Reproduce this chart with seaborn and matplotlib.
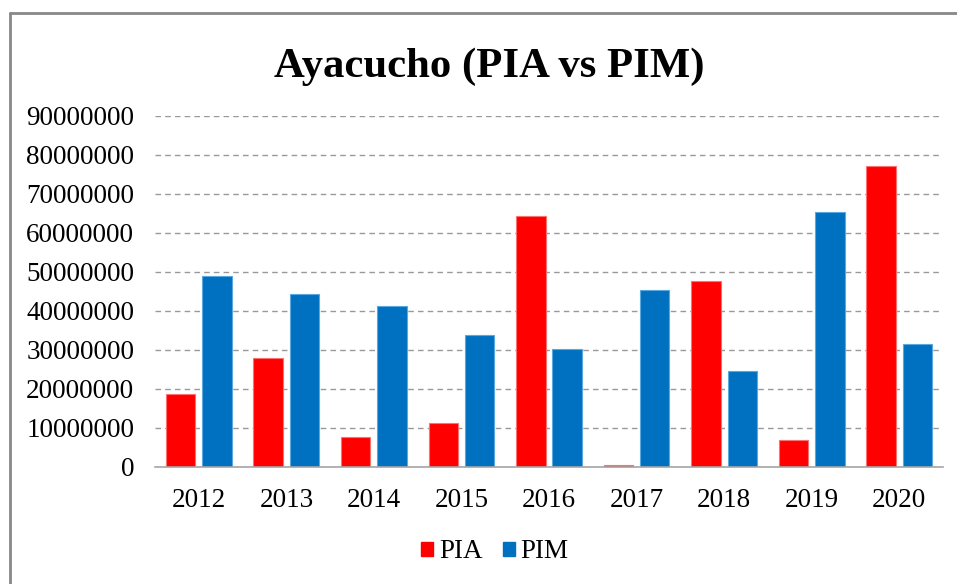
import matplotlib
matplotlib.use("Agg")
import matplotlib.pyplot as plt
from matplotlib.lines import Line2D
import seaborn as sns
import pandas as pd

years = ["2012", "2013", "2014", "2015", "2016", "2017", "2018", "2019", "2020"]
pia = [18560000, 27800000, 7700000, 11300000, 64300000, 400000, 47600000, 6800000, 77200000]
pim = [48900000, 44200000, 41300000, 33700000, 30100000, 45300000, 24500000, 65300000, 31400000]
series = ["PIA", "PIM"]
yticks = list(range(0, 90000001, 10000000))

df = pd.DataFrame({
    "year": years * 2,
    "value": pia + pim,
    "series": ["PIA"] * len(years) + ["PIM"] * len(years),
})

sns.set_style("white")
plt.rcParams["font.family"] = ["Liberation Serif", "DejaVu Serif"]
plt.rcParams["text.color"] = "black"
plt.rcParams["xtick.color"] = "black"
plt.rcParams["ytick.color"] = "black"

fig = plt.figure(figsize=(9.57, 5.84), dpi=100)
ax = fig.add_axes([155 / 957, 1 - 466.7 / 584, (943 - 155) / 957, (466.7 - 116) / 584])

colors = {"PIA": "#FF0000", "PIM": "#0070C0"}
edges = {"PIA": "#ff7070", "PIM": "#5aa8e0"}
sns.barplot(data=df, x="year", y="value", hue="series", order=years, hue_order=series,
            palette=colors, width=0.83, gap=0.19, saturation=1, ax=ax, legend=False,
            linewidth=0)

for container, name in zip(ax.containers, series):
    for p in container:
        p.set_edgecolor(edges[name])
        p.set_linewidth(0.8)

ax.set_ylim(0, 90000000)
ax.set_xlim(-0.5, len(years) - 0.5)
ax.set_yticks(yticks)
ax.set_yticklabels([str(v) for v in yticks])
ax.set_xlabel("")
ax.set_ylabel("")
ax.yaxis.grid(True, linestyle=(0, (4, 3)), color="#999999", linewidth=1)
ax.set_axisbelow(True)
for s in ["left", "top", "right"]:
    ax.spines[s].set_visible(False)
ax.spines["bottom"].set_color("#a6a6a6")
ax.spines["bottom"].set_linewidth(1.2)
ax.tick_params(axis="y", length=0, pad=15, labelsize=19.5, labelcolor="black")
ax.tick_params(axis="x", length=0, pad=15.5, labelsize=19.5, labelcolor="black")

ax.legend(handles=[plt.Rectangle((0, 0), 1, 1, color=colors["PIA"]),
                   plt.Rectangle((0, 0), 1, 1, color=colors["PIM"])],
          labels=series, loc="center", bbox_to_anchor=(495 / 957, 1 - 552 / 584),
          bbox_transform=fig.transFigure, ncol=2, frameon=False, fontsize=19.5,
          handlelength=0.44, handleheight=0.44, handletextpad=0.22, columnspacing=0.74,
          borderpad=0, borderaxespad=0)

fig.text(489 / 957, 1 - 77 / 584, "Ayacucho (PIA vs PIM)", ha="center", va="baseline",
         fontsize=30.8, fontweight="bold", color="black")

fig.add_artist(Line2D([9.5 / 957, 9.5 / 957], [0, 1 - 13 / 584], transform=fig.transFigure,
                      color="#888888", linewidth=2))
fig.add_artist(Line2D([9.5 / 957, 1], [1 - 13 / 584, 1 - 13 / 584], transform=fig.transFigure,
                      color="#888888", linewidth=2))

fig.savefig("out.png", dpi=100)
